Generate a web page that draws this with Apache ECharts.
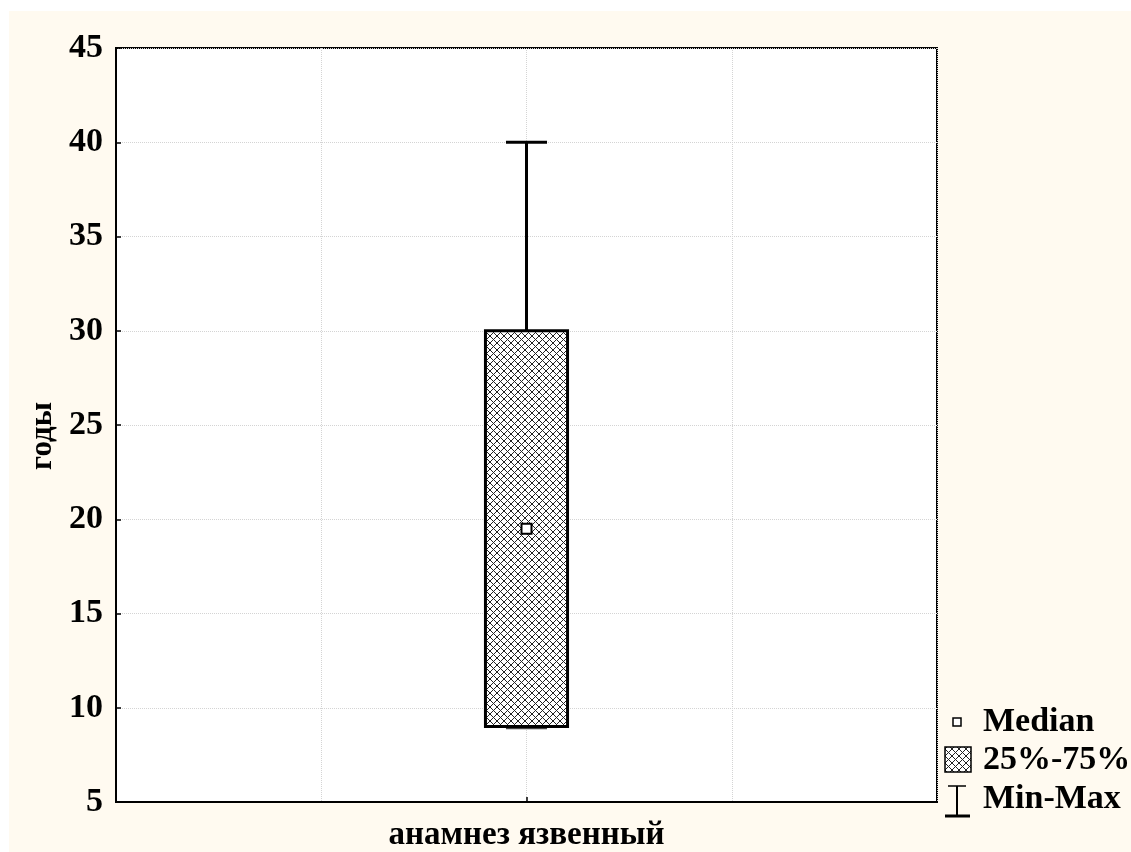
<!DOCTYPE html>
<html>
<head>
<meta charset="utf-8">
<script src="https://cdn.jsdelivr.net/npm/echarts@6/dist/echarts.min.js"></script>
<style>
  html, body { margin: 0; padding: 0; background: #ffffff; }
  #frame { position: absolute; left: 9px; top: 11px; right: 0; bottom: 0; background: #fffaf0; }
  #chart { position: absolute; left: 0; top: 0; width: 1131px; height: 852px; }
</style>
</head>
<body>
<div id="frame"></div>
<div id="chart"></div>
<script>
// Axis categories (only the middle slot carries the group name)
const categories = ['', '', 'анамнез язвенный', '', ''];
const groupName = 'анамнез язвенный';

// Box statistics for the group
const minValues = [8.9];
const q1Values = [9];
const medianValues = [19.5];
const q3Values = [30];
const maxValues = [40];

// Y axis
const yMin = 5, yMax = 45, yStep = 5;
const yTitle = 'годы';

// Legend labels
const legendLabels = ['Median', '25%-75%', 'Min-Max'];

const FONT = '"Liberation Serif", "Times New Roman", serif';

// Cross-hatch fill used for the interquartile box
function makeHatch(size) {
  const c = document.createElement('canvas');
  c.width = size; c.height = size;
  const g = c.getContext('2d');
  g.fillStyle = '#ffffff';
  g.fillRect(0, 0, size, size);
  g.strokeStyle = '#222222';
  g.lineWidth = 1;
  g.beginPath();
  g.moveTo(0, 0); g.lineTo(size, size);
  g.moveTo(size, 0); g.lineTo(0, size);
  g.stroke();
  return c;
}
const hatch = { image: makeHatch(7), repeat: 'repeat' };

const seriesData = minValues.map((_, i) => [
  groupName, minValues[i], q1Values[i], medianValues[i], q3Values[i], maxValues[i]
]);

function renderItem(params, api) {
  const x = api.value(0);
  const step = api.size([1, 0])[0];
  const boxHalf = step * 0.2;
  const capHalf = step * 0.1;
  const pMin = api.coord([x, api.value(1)]);
  const pQ1 = api.coord([x, api.value(2)]);
  const pMed = api.coord([x, api.value(3)]);
  const pQ3 = api.coord([x, api.value(4)]);
  const pMax = api.coord([x, api.value(5)]);
  const cx = pQ1[0];
  return {
    type: 'group',
    children: [
      { type: 'line', shape: { x1: cx, y1: pQ3[1], x2: cx, y2: pMax[1] },
        style: { stroke: '#000', lineWidth: 3 } },
      { type: 'line', shape: { x1: cx - capHalf, y1: pMax[1], x2: cx + capHalf, y2: pMax[1] },
        style: { stroke: '#000', lineWidth: 3 } },
      { type: 'line', shape: { x1: cx - capHalf, y1: pMin[1], x2: cx + capHalf, y2: pMin[1] },
        style: { stroke: '#444', lineWidth: 1.5 } },
      { type: 'rect', shape: { x: cx - boxHalf, y: pQ3[1], width: boxHalf * 2, height: pQ1[1] - pQ3[1] },
        style: { fill: hatch, stroke: '#000', lineWidth: 3 } },
      { type: 'rect', shape: { x: pMed[0] - 5, y: pMed[1] - 5, width: 10, height: 10 },
        style: { fill: '#fff', stroke: '#000', lineWidth: 2 } }
    ]
  };
}

const chart = echarts.init(document.getElementById('chart'), null, { renderer: 'canvas' });

const legendX = 945, legendTextX = 983;
const legendRows = [722, 760, 799];

chart.setOption({
  backgroundColor: 'transparent',
  animation: false,
  grid: {
    left: 116, top: 48, right: 194, bottom: 50,
    show: true, backgroundColor: '#ffffff', borderColor: '#000', borderWidth: 2
  },
  xAxis: {
    type: 'category',
    data: categories,
    boundaryGap: false,
    axisLine: { lineStyle: { color: '#000', width: 2 } },
    axisTick: { show: true, inside: true, length: 5, lineStyle: { color: '#000', width: 1.5 },
      interval: (i) => i === 2 },
    axisLabel: { interval: 0, margin: 17, color: '#000', fontFamily: FONT, fontWeight: 'bold', fontSize: 33 },
    splitLine: { show: true, lineStyle: { color: '#d4d4d4', type: 'dotted', width: 1 } }
  },
  yAxis: {
    type: 'value',
    min: yMin, max: yMax, interval: yStep,
    name: yTitle,
    nameLocation: 'middle',
    nameGap: 58,
    nameRotate: 90,
    nameTextStyle: { color: '#000', fontFamily: FONT, fontWeight: 'bold', fontSize: 31, padding: [0, 22, 0, 0] },
    axisLine: { show: true, lineStyle: { color: '#000', width: 2 } },
    axisTick: { show: true, inside: true, length: 5, lineStyle: { color: '#000', width: 1.5 } },
    axisLabel: { margin: 13, color: '#000', fontFamily: FONT, fontWeight: 'bold', fontSize: 34 },
    splitLine: { show: true, lineStyle: { color: '#d4d4d4', type: 'dotted', width: 1 } }
  },
  series: [{
    type: 'custom',
    renderItem: renderItem,
    encode: { x: 0, y: [1, 2, 3, 4, 5] },
    data: seriesData,
    z: 10
  }],
  graphic: [
    // Median marker
    { type: 'rect', shape: { x: 953, y: legendRows[0] - 4, width: 8, height: 8 },
      style: { fill: '#fff', stroke: '#000', lineWidth: 1.5 } },
    // Interquartile swatch
    { type: 'rect', shape: { x: legendX, y: legendRows[1] - 13, width: 26, height: 25 },
      style: { fill: hatch, stroke: '#000', lineWidth: 1.5 } },
    // Range symbol
    { type: 'line', shape: { x1: 957, y1: legendRows[2] - 13, x2: 957, y2: legendRows[2] + 17 },
      style: { stroke: '#000', lineWidth: 2 } },
    { type: 'line', shape: { x1: 948, y1: legendRows[2] - 13, x2: 966, y2: legendRows[2] - 13 },
      style: { stroke: '#000', lineWidth: 1.5 } },
    { type: 'line', shape: { x1: 945, y1: legendRows[2] + 17, x2: 970, y2: legendRows[2] + 17 },
      style: { stroke: '#000', lineWidth: 3 } },
    ...legendLabels.map((t, i) => ({
      type: 'text', x: legendTextX, y: legendRows[i],
      style: { text: t, fill: '#000', font: 'bold 34px ' + FONT, textVerticalAlign: 'middle', textAlign: 'left' }
    }))
  ]
});
</script>
</body>
</html>
